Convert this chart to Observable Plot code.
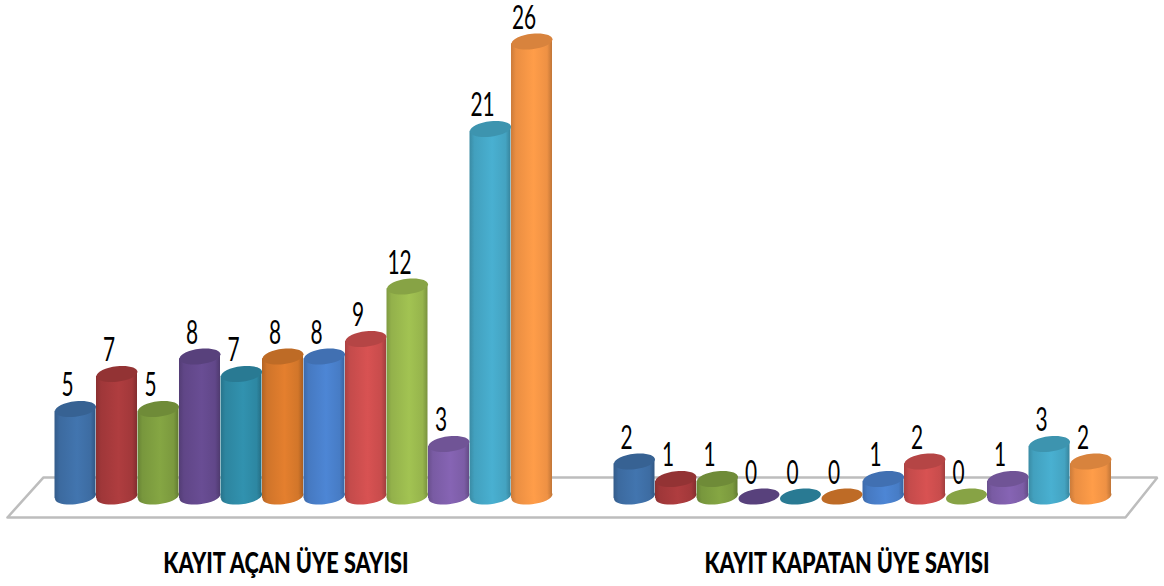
<!DOCTYPE html>
<html><head><meta charset="utf-8">
<style>html,body{margin:0;padding:0;background:#fff}svg{display:block}</style>
<script src="https://cdn.jsdelivr.net/npm/d3@7"></script>
<script src="https://cdn.jsdelivr.net/npm/@observablehq/plot@0.6"></script>
</head><body><div id="chart"></div>
<script>
const groups = ["KAYIT AÇAN ÜYE SAYISI", "KAYIT KAPATAN ÜYE SAYISI"];
const openValues = [5, 7, 5, 8, 7, 8, 8, 9, 12, 3, 21, 26];
const closeValues = [2, 1, 1, 0, 0, 0, 1, 2, 0, 1, 3, 2];
const colors = ["#3f70a8","#a83a3c","#7f9f40","#654a8e","#2f8ca8","#da7a2c","#4a80cc","#cf4f4f","#9bbb4f","#8060ac","#46a9c8","#f79646"];
const groupStart = [0, 13.47];
const groupCenter = [5.07, 18.59];
const floorX = [-1.64, -0.77, 26.07, 25.3, -1.64];
const floorY = [-1.2, 1.09, 1.09, -1.2, -1.2];

const rows = [openValues, closeValues].flatMap((vals, g) =>
  vals.map((v, i) => ({pos: groupStart[g] + i, value: v, i, fill: `url(#cyl${i})`, top: d3.color(colors[i]).darker(0.38).formatHex()})));
const floor = floorX.map((x, k) => ({x, y: floorY[k]}));
const titles = groups.map((name, g) => ({name, x: groupCenter[g]}));

const skewDeg = -6;
const tilt = Math.tan(skewDeg * Math.PI / 180);
const ellipse = {
  draw(ctx, size) {
    const rx = Math.sqrt(size / Math.PI), ry = rx * 0.38, k = 0.5523;
    const P = (x, y) => [x, y + x * tilt];
    ctx.moveTo(...P(-rx, 0));
    ctx.bezierCurveTo(...P(-rx, -k * ry), ...P(-k * rx, -ry), ...P(0, -ry));
    ctx.bezierCurveTo(...P(k * rx, -ry), ...P(rx, -k * ry), ...P(rx, 0));
    ctx.bezierCurveTo(...P(rx, k * ry), ...P(k * rx, ry), ...P(0, ry));
    ctx.bezierCurveTo(...P(-k * rx, ry), ...P(-rx, k * ry), ...P(-rx, 0));
    ctx.closePath();
  }
};
function defs() {
  const d = d3.create("svg:defs");
  colors.forEach((c, i) => {
    const g = d.append("linearGradient").attr("id", `cyl${i}`).attr("x1", 0).attr("x2", 1).attr("y1", 0).attr("y2", 0);
    [[0, d3.color(c).darker(0.55)], [0.12, d3.color(c).darker(0.15)], [0.55, d3.color(c).brighter(0.12)], [0.88, d3.color(c).darker(0.1)], [1, d3.color(c).darker(0.7)]]
      .forEach(([o, col]) => g.append("stop").attr("offset", o).attr("stop-color", col.formatHex()));
  });
  return d.node();
}
function skewBars(index, scales, values, dims, ctx, next) {
  const g = next(index, scales, values, dims, ctx);
  d3.select(g).selectAll("rect").each(function () {
    const cx = +this.getAttribute("x") + +this.getAttribute("width") / 2;
    this.setAttribute("transform", `translate(${cx},0) skewY(${skewDeg}) translate(${-cx},0)`);
  });
  return g;
}
const squeeze = (sx, sy) => function (index, scales, values, dims, ctx, next) {
  const g = next(index, scales, values, dims, ctx);
  d3.select(g).selectAll("text").each(function () {
    this.setAttribute("transform", `${this.getAttribute("transform") || ""} scale(${sx},${sy})`);
  });
  return g;
};
const font = "Lato,sans-serif";
const chart = Plot.plot({
  width: 1164, height: 586, margin: 0,
  x: {domain: [-75 / 41.5, 1089 / 41.5], range: [0, 1164], axis: null},
  y: {domain: [-90 / 17.5, 496 / 17.5], range: [586, 0], axis: null},
  color: {type: "identity"},
  marks: [
    defs,
    Plot.line(floor, {x: "x", y: "y", stroke: "#bdbdbd", strokeWidth: 2.5, fill: "#fff", curve: "linear", strokeLinejoin: "miter"}),
    Plot.dot(rows.filter(d => d.value > 0), {x: "pos", y: 0, r: 20.5, symbol: ellipse, fill: "fill", stroke: null}),
    Plot.rect(rows.filter(d => d.value > 0), {x1: d => d.pos - 0.494, x2: d => d.pos + 0.494, y1: 0, y2: "value", fill: "fill", render: skewBars}),
    Plot.dot(rows, {x: "pos", y: "value", r: 20.5, symbol: ellipse, fill: "top", stroke: null}),
    Plot.text(rows, {x: "pos", y: "value", text: d => String(d.value), dx: -8, dy: -23, fontSize: 29, fontFamily: font, fill: "#000", render: squeeze(0.72, 1.12)}),
    Plot.text(titles, {x: "x", y: -3.83, text: "name", fontSize: 26, fontWeight: 900, fontFamily: font, fill: "#000", render: squeeze(0.835, 1.1)})
  ]
});
document.getElementById("chart").append(chart);
</script></body></html>
